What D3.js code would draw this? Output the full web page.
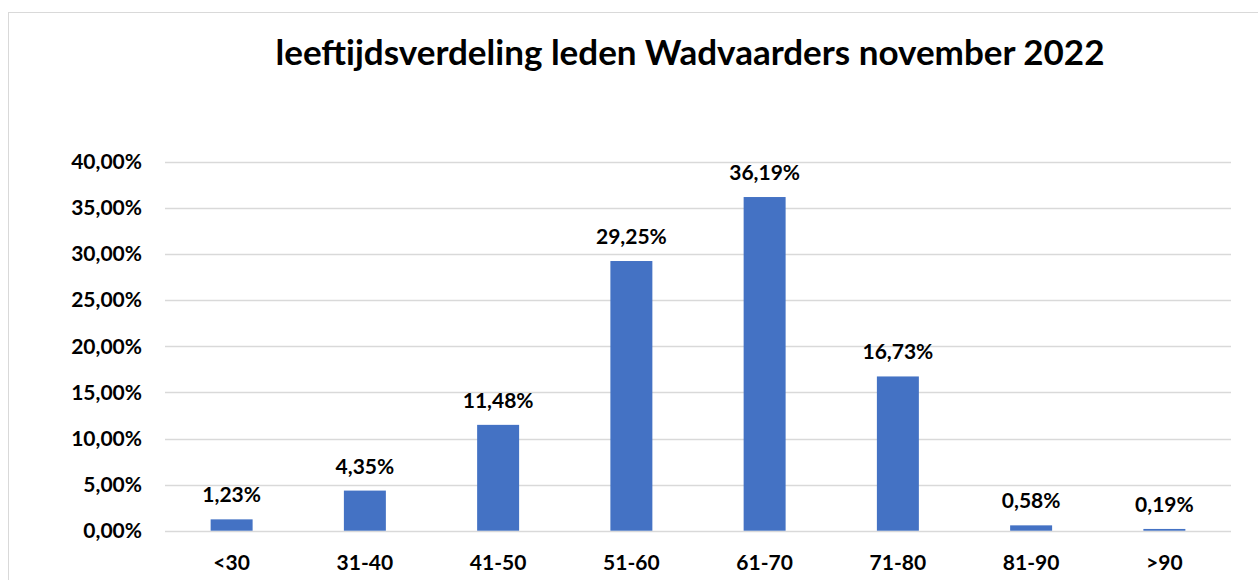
<!DOCTYPE html>
<html><head><meta charset="utf-8">
<script src="https://cdn.jsdelivr.net/npm/d3@7"></script>
<style>body{margin:0;background:#fff;} text{font-family:Lato,"Open Sans",sans-serif;font-weight:bold;}</style>
</head><body><svg id="c" width="1258" height="580"></svg>
<script>
const categories = ["<30","31-40","41-50","51-60","61-70","71-80","81-90",">90"];
const values = [1.23,4.35,11.48,29.25,36.19,16.73,0.58,0.19];
const yTicks = [0,5,10,15,20,25,30,35,40];
const title = "leeftijdsverdeling leden Wadvaarders november 2022";

const svg = d3.select("#c");
const fmt = v => v.toFixed(2).replace(".", ",") + "%";
// chart border
svg.append("rect").attr("x",8.5).attr("y",12.5).attr("width",1270).attr("height",600)
  .attr("fill","none").attr("stroke","#d9d9d9").attr("stroke-width",1);

const x = d3.scaleBand().domain(categories).range([165,1231]).paddingInner(0.685).paddingOuter(0.3425);
const y = d3.scaleLinear().domain([0,40]).range([530.7,161.9]);

svg.append("g").selectAll("line").data(yTicks).join("line")
  .attr("x1",165).attr("x2",1231).attr("y1",d=>Math.round(y(d))+0.5).attr("y2",d=>Math.round(y(d))+0.5)
  .attr("stroke","#d9d9d9").attr("stroke-width",1.3);

const yAxis = d3.axisLeft(y).tickValues(yTicks).tickFormat(fmt).tickSize(0).tickPadding(0);
const gy = svg.append("g").attr("transform","translate(142,0)").call(yAxis);
gy.select(".domain").remove();
gy.selectAll("text").attr("font-size",21).attr("fill","#000").attr("dy","0.32em");

svg.append("g").selectAll("rect").data(values).join("rect")
  .attr("x",(d,i)=>x(categories[i])).attr("width",x.bandwidth())
  .attr("y",d=>y(d)).attr("height",d=>y(0)-y(d)).attr("fill","#4472c4");

svg.append("g").selectAll("text").data(values).join("text")
  .attr("x",(d,i)=>x(categories[i])+x.bandwidth()/2).attr("y",d=>y(d)-17)
  .attr("text-anchor","middle").attr("font-size",21).attr("fill","#000").text(fmt);

const xAxis = d3.axisBottom(x).tickSize(0).tickPadding(0);
const gx = svg.append("g").attr("transform","translate(0,570)").call(xAxis);
gx.select(".domain").remove();
gx.selectAll("text").attr("font-size",21).attr("fill","#000").attr("dy",0);

svg.append("text").attr("x",690).attr("y",65).attr("text-anchor","middle")
  .attr("font-size",35).attr("fill","#000").text(title);
</script></body></html>
